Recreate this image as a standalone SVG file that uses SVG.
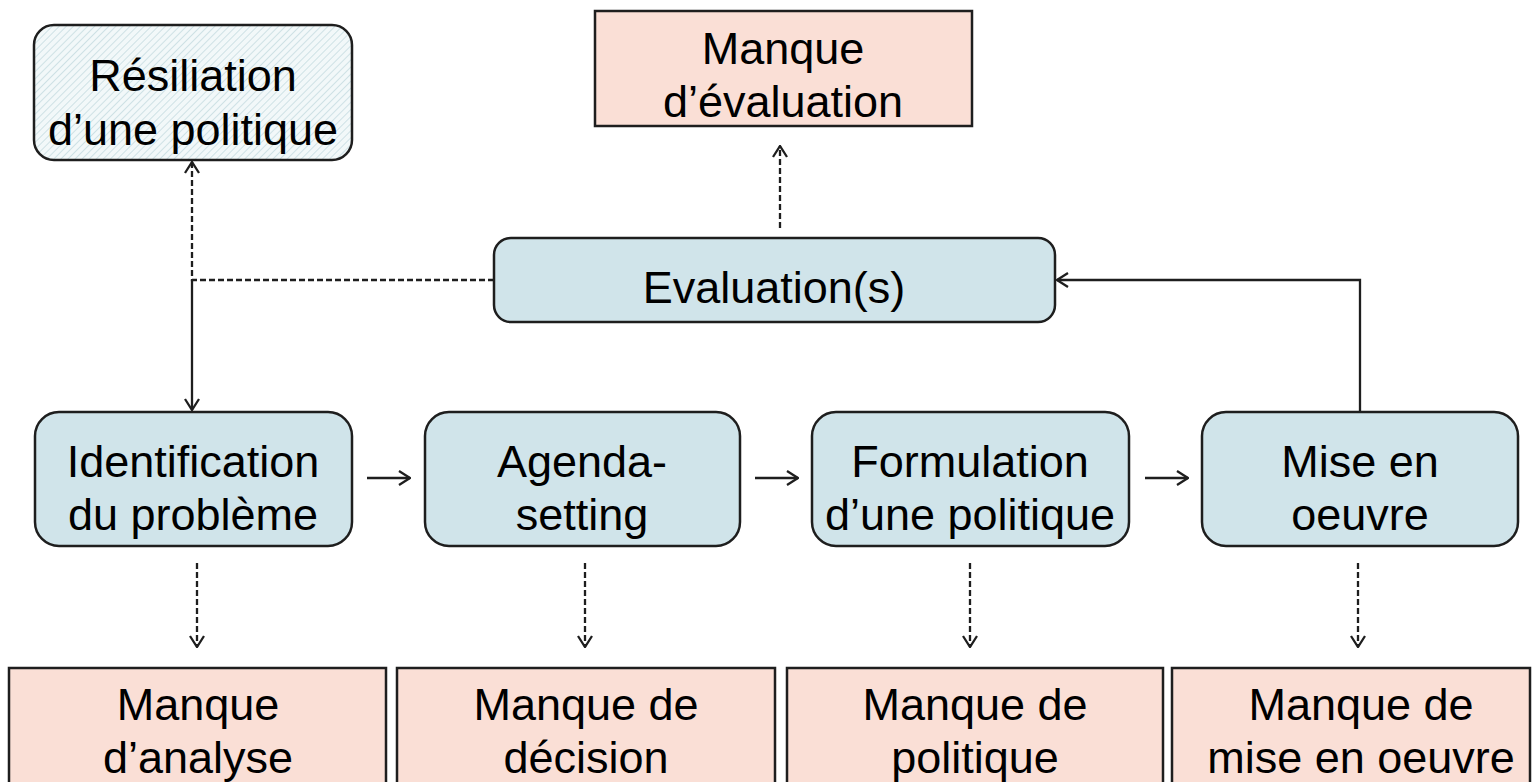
<svg xmlns="http://www.w3.org/2000/svg" width="1537" height="782" viewBox="0 0 1537 782">
<defs>
<style>
.t{font-family:"Liberation Sans",Arial,sans-serif;font-size:45px;fill:#000;text-anchor:middle}
.blue{fill:#d0e4ea;stroke:#1e1e1e;stroke-width:2.5}
.pink{fill:#fadfd6;stroke:#1e1e1e;stroke-width:2.5}
.c{fill:none;stroke:#1e1e1e;stroke-width:2.3}
.d{fill:none;stroke:#1e1e1e;stroke-width:2.3;stroke-dasharray:6 3}
</style>
<pattern id="hatch" patternUnits="userSpaceOnUse" width="5" height="5" patternTransform="rotate(45)">
<rect width="5" height="5" fill="#f2f8f9"/>
<line x1="0" y1="0" x2="0" y2="5" stroke="#c5dbe0" stroke-width="1.6"/>
</pattern>
<marker id="ah" viewBox="0 0 13 16" refX="12" refY="8" markerWidth="13" markerHeight="16" markerUnits="userSpaceOnUse" orient="auto">
<path d="M1,1 L12,8 L1,15" fill="none" stroke="#1e1e1e" stroke-width="2.3"/>
</marker>
</defs>
<g id="connectors">
<path class="d" d="M494,280 H192 V162" marker-end="url(#ah)"/>
<path class="c" d="M192,280 V410" marker-end="url(#ah)"/>
<path class="c" d="M1360,412 V280 H1057" marker-end="url(#ah)"/>
<path class="d" d="M780,228 V146" marker-end="url(#ah)"/>
<path class="c" d="M367,478 H410" marker-end="url(#ah)"/>
<path class="c" d="M755,478 H798" marker-end="url(#ah)"/>
<path class="c" d="M1145,478 H1188" marker-end="url(#ah)"/>
<path class="d" d="M197,563 V647" marker-end="url(#ah)"/>
<path class="d" d="M585,563 V647" marker-end="url(#ah)"/>
<path class="d" d="M970,563 V647" marker-end="url(#ah)"/>
<path class="d" d="M1358,563 V647" marker-end="url(#ah)"/>
</g>
<g id="resiliation">
<rect x="34" y="25" width="318" height="135" rx="20" fill="url(#hatch)" stroke="#1e1e1e" stroke-width="2.5"/>
<text class="t" x="193" y="91">Résiliation</text>
<text class="t" x="193" y="145">d’une politique</text>
</g>
<g id="manque-evaluation">
<rect class="pink" x="595" y="11" width="377" height="115"/>
<text class="t" x="783" y="64">Manque</text>
<text class="t" x="783" y="117">d’évaluation</text>
</g>
<g id="evaluation">
<rect class="blue" x="494" y="238" width="561" height="84" rx="17"/>
<text class="t" x="774" y="303">Evaluation(s)</text>
</g>
<g id="identification">
<rect class="blue" x="35" y="412" width="317" height="134" rx="24"/>
<text class="t" x="193" y="477">Identification</text>
<text class="t" x="193" y="530">du problème</text>
</g>
<g id="agenda">
<rect class="blue" x="425" y="412" width="315" height="134" rx="24"/>
<text class="t" x="582" y="477">Agenda-</text>
<text class="t" x="582" y="530">setting</text>
</g>
<g id="formulation">
<rect class="blue" x="812" y="412" width="317" height="134" rx="24"/>
<text class="t" x="970" y="477">Formulation</text>
<text class="t" x="970" y="530">d’une politique</text>
</g>
<g id="mise-en-oeuvre">
<rect class="blue" x="1202" y="412" width="316" height="134" rx="24"/>
<text class="t" x="1360" y="477">Mise en</text>
<text class="t" x="1360" y="530">oeuvre</text>
</g>
<g id="manque-analyse">
<rect class="pink" x="9" y="668" width="377" height="140"/>
<text class="t" x="198" y="720">Manque</text>
<text class="t" x="198" y="773">d’analyse</text>
</g>
<g id="manque-decision">
<rect class="pink" x="397" y="668" width="378" height="140"/>
<text class="t" x="586" y="720">Manque de</text>
<text class="t" x="586" y="773">décision</text>
</g>
<g id="manque-politique">
<rect class="pink" x="787" y="668" width="376" height="140"/>
<text class="t" x="975" y="720">Manque de</text>
<text class="t" x="975" y="773">politique</text>
</g>
<g id="manque-mise">
<rect class="pink" x="1172" y="668" width="358" height="140"/>
<text class="t" x="1361" y="720">Manque de</text>
<text class="t" x="1361" y="773">mise en oeuvre</text>
</g>
</svg>
